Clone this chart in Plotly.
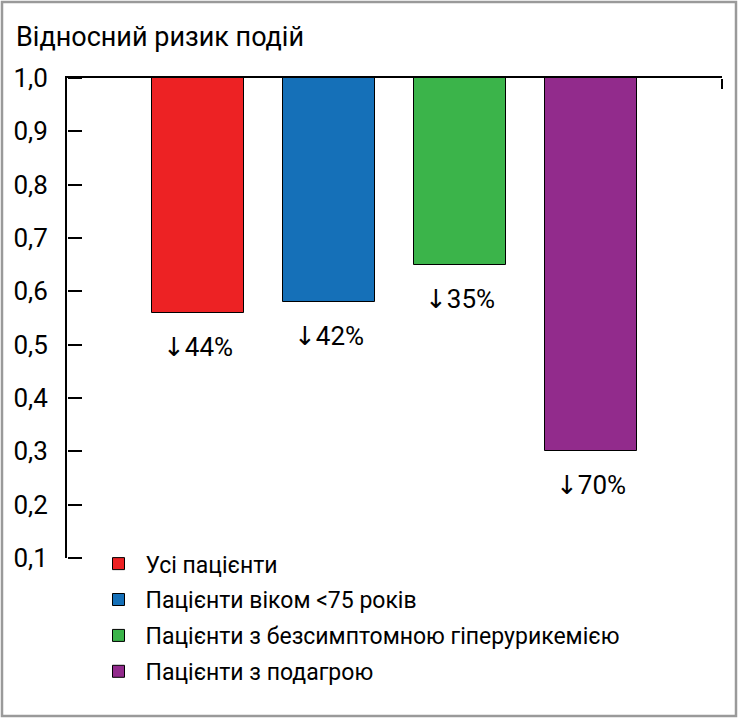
import plotly.graph_objects as go

# groups and relative risk (bars hang down from 1.0)
groups = [
    "Усі пацієнти",
    "Пацієнти віком <75 років",
    "Пацієнти з безсимптомною гіперурикемією",
    "Пацієнти з подагрою",
]
relative_risk = [0.56, 0.58, 0.65, 0.30]
bar_colors = ["#ED2224", "#1570B8", "#3BB44A", "#922B8C"]
y_ticks = [0.1, 0.2, 0.3, 0.4, 0.5, 0.6, 0.7, 0.8, 0.9, 1.0]

FONT = "Roboto, DejaVu Sans"
X_RANGE = [-1, 4]
Y_RANGE = [0.1, 1.0]

fig = go.Figure()
for i, (name, rr, col) in enumerate(zip(groups, relative_risk, bar_colors)):
    fig.add_trace(go.Bar(
        x=[i], y=[rr - 1], base=1, width=0.7,
        name=name, legendgroup=name,
        marker=dict(color=col, line=dict(color="black", width=1)),
        hoverinfo="skip",
    ))
    # percentage reduction under each bar
    fig.add_annotation(
        x=i, y=rr, yshift=-34, showarrow=False,
        text=f"↓{round((1 - rr) * 100)}%",
        font=dict(family=FONT, size=26, color="black"),
    )

# empty helper trace so the overlay axes (used only for the tick marks) get drawn
fig.add_trace(go.Scatter(x=[None], y=[None], xaxis="x2", yaxis="y2",
                         showlegend=False, hoverinfo="skip"))

# grey frame around the whole picture
W, H = 738, 718
ml, mr, mt, mb = 67, 16, 78, 160
pw, ph = W - ml - mr, H - mt - mb
fig.add_shape(
    type="rect", xref="paper", yref="paper",
    x0=(2 - ml) / pw, x1=(W - 2 - ml) / pw,
    y0=-(mb - 2) / ph, y1=1 + (mt - 2) / ph,
    line=dict(color="#9a9a9a", width=2.5), fillcolor="rgba(0,0,0,0)",
)

fig.update_layout(
    width=W, height=H,
    margin=dict(l=ml, r=mr, t=mt, b=mb),
    paper_bgcolor="white", plot_bgcolor="white",
    separators=", ",
    font=dict(family=FONT, color="black"),
    title=dict(
        text="Відносний ризик подій",
        xref="container", yref="container",
        x=16 / W, y=1 - 37 / H, xanchor="left", yanchor="middle",
        font=dict(family=FONT, size=27, color="black"),
    ),
    xaxis=dict(
        range=X_RANGE, side="top",
        showline=True, linecolor="black", linewidth=2,
        showticklabels=False, ticks="",
        showgrid=False, zeroline=False,
    ),
    yaxis=dict(
        range=Y_RANGE, tickvals=y_ticks, tickformat=".1f",
        showline=True, linecolor="black", linewidth=2,
        ticks="", ticklabelstandoff=12,
        tickfont=dict(family=FONT, size=26, color="black"),
        showgrid=False, zeroline=False,
    ),
    # tick marks pointing into the plot: outside ticks of mirrored overlay axes
    xaxis2=dict(
        range=X_RANGE, overlaying="x", side="bottom", anchor="free", position=1,
        tickvals=[X_RANGE[1]], showticklabels=False,
        ticks="outside", ticklen=10, tickwidth=2, tickcolor="black",
        showline=False, showgrid=False, zeroline=False,
    ),
    yaxis2=dict(
        range=Y_RANGE, overlaying="y", side="right", anchor="free", position=0,
        tickvals=y_ticks, showticklabels=False,
        ticks="outside", ticklen=14, tickwidth=2, tickcolor="black",
        showline=False, showgrid=False, zeroline=False,
    ),
    showlegend=True,
    legend=dict(
        x=(91.5 - ml) / pw, y=0.033, xanchor="left", yanchor="top",
        traceorder="grouped", tracegroupgap=3, itemwidth=44,
        font=dict(family=FONT, size=23, color="black"),
        bgcolor="rgba(0,0,0,0)",
    ),
    bargap=0,
)

# drop the browser's default page margin so the figure sits at (0, 0)
fig.write_html("out.html", config={"displayModeBar": False},
               post_script="document.body.style.margin = '0';")
